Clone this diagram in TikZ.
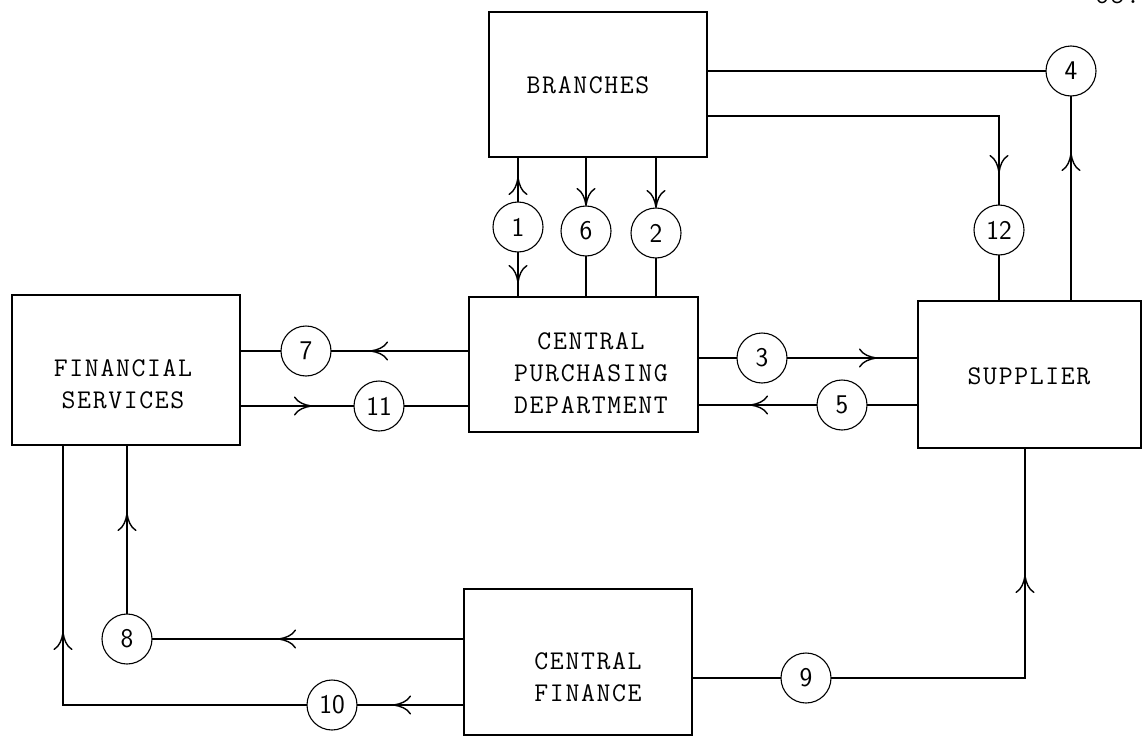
\documentclass[tikz,border=0pt]{standalone}
\usepackage{fontspec}
\setmonofont{Latin Modern Mono}[LetterSpace=6]
\usetikzlibrary{arrows.meta,decorations.markings}
\tikzset{
  box/.style={draw, rectangle, line width=2.4pt, inner sep=0pt, outer sep=0pt},
  num/.style={draw, circle, line width=1.1pt, minimum size=50pt, inner sep=0pt, outer sep=0pt,
              font=\sffamily\fontsize{27}{27}\selectfont},
  txt/.style={font=\ttfamily\fontsize{27}{32}\selectfont, align=center, inner sep=0pt},
  conn/.style={line width=1.4pt},
  tipat/.style={postaction={decorate}, decoration={markings,
      mark=at position #1 with {\arrow{Computer Modern Rightarrow[length=18pt,width=19pt]}}}},
  endtip/.style={-{Computer Modern Rightarrow[length=18pt,width=19pt]}},
}
\begin{document}
\begin{tikzpicture}[x=1pt,y=-1pt]
\useasboundingbox (0,0) rectangle (1144,736);
% boxes
\node[box, minimum width=218pt, minimum height=145pt] (br)  at (598,84.5) {};
\node[box, minimum width=229pt, minimum height=135pt] (cpd) at (583.5,364.5) {};
\node[box, minimum width=228pt, minimum height=150pt] (fs)  at (126,370) {};
\node[box, minimum width=223pt, minimum height=147pt] (sup) at (1029.5,374.5) {};
\node[box, minimum width=228pt, minimum height=146pt] (cf)  at (578,662) {};
% box texts
\node[txt] (tbr)  at (588,85) {BRANCHES};
\node[txt] (tcpd) at (591,373.5) {CENTRAL\\PURCHASING\\DEPARTMENT};
\node[txt] (tfs)  at (123,384) {FINANCIAL\\SERVICES};
\node[txt] (tsup) at (1029,376) {SUPPLIER};
\node[txt] (tcf)  at (588,677) {CENTRAL\\FINANCE};
% circles
\node[num] (c1)  at (518,227) {1};
\node[num] (c6)  at (586,231) {6};
\node[num] (c2)  at (656,233) {2};
\node[num] (c12) at (999,230) {12};
\node[num] (c4)  at (1071,71) {4};
\node[num] (c7)  at (306,351) {7};
\node[num] (c11) at (379,406) {11};
\node[num] (c3)  at (762,358) {3};
\node[num] (c5)  at (842,405) {5};
\node[num] (c8)  at (127,639) {8};
\node[num] (c10) at (332,705) {10};
\node[num] (c9)  at (806,678) {9};
% connectors
\draw[conn] (br.east |- c4) -- (c4);
\draw[conn, tipat=148pt] (sup.north -| c4) -- (c4);
\draw[conn, tipat=349pt] (br.east |- 0,116) -| (c12);
\draw[conn] (c12) -- (sup.north -| c12);
\draw[conn, tipat=25pt] (c1) -- (br.south -| c1);
\draw[conn, tipat=31pt] (c1) -- (cpd.north -| c1);
\draw[conn, endtip] (br.south -| c6) -- (c6);
\draw[conn] (c6) -- (cpd.north -| c6);
\draw[conn, endtip] (br.south -| c2) -- (c2);
\draw[conn] (c2) -- (cpd.north -| c2);
\draw[conn, tipat=99pt] (cpd.west |- c7) -- (c7);
\draw[conn] (c7) -- (fs.east |- c7);
\draw[conn, tipat=72pt] (fs.east |- c11) -- (c11);
\draw[conn] (c11) -- (cpd.west |- c11);
\draw[conn] (cpd.east |- c3) -- (c3);
\draw[conn, tipat=90pt] (c3) -- (sup.west |- c3);
\draw[conn] (sup.west |- c5) -- (c5);
\draw[conn, tipat=67pt] (c5) -- (cpd.east |- c5);
\draw[conn, tipat=186pt] (cf.west |- c8) -- (c8);
\draw[conn, tipat=101pt] (c8) -- (fs.south -| c8);
\draw[conn, tipat=71pt] (cf.west |- c10) -- (c10);
\draw[conn, tipat=317pt] (c10) -| (63,0 |- fs.south);
\draw[conn] (cf.east |- c9) -- (c9);
\draw[conn, tipat=297pt] (c9) -| (1025,0 |- sup.south);
% cropped page number
\begin{scope}
\clip (0,0) rectangle (1144,736);
\node[txt, anchor=base west] (pg) at (1095,3) {65.};
\end{scope}
\end{tikzpicture}
\end{document}
